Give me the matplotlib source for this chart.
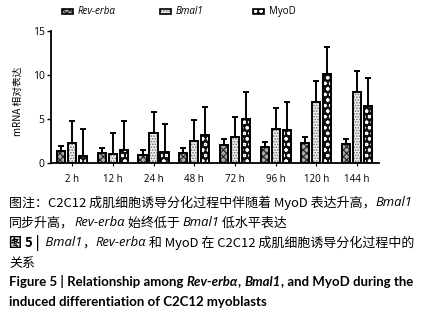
import numpy as np
import matplotlib
matplotlib.use("Agg")
import matplotlib.pyplot as plt
from matplotlib.patches import Rectangle

# values
times = ["2 h", "12 h", "24 h", "48 h", "72 h", "96 h", "120 h", "144 h"]
rev = [1.28, 1.13, 0.90, 1.13, 2.03, 1.80, 2.26, 2.10]
rev_err = [0.60, 0.57, 0.53, 0.57, 0.64, 0.53, 0.64, 0.64]
bmal = [2.26, 0.94, 3.35, 2.44, 2.90, 3.83, 6.92, 8.00]
bmal_err = [2.51, 2.41, 2.40, 2.41, 2.33, 2.37, 2.37, 2.50]
myod = [0.75, 1.50, 1.20, 3.20, 4.96, 3.76, 10.11, 6.47]
myod_err = [3.08, 3.24, 3.16, 3.19, 3.12, 3.19, 3.09, 3.13]

CJK = ["Noto Sans CJK SC", "DejaVu Sans"]
LAT = ["Open Sans", "DejaVu Sans"]
ENG = ["Lato", "DejaVu Sans"]

plt.rcParams["hatch.linewidth"] = 0.8

fig = plt.figure(figsize=(4.25, 3.16), dpi=100)
W, H = 425, 316
ax = fig.add_axes([51 / W, 1 - 162.7 / H, (379 - 51) / W, (162.7 - 31) / H])

x = np.arange(len(times))
bw = 0.2
off = 0.27
styles = [
    # face, hatch colour, hatch
    ("#a8a8a8", "#222222", "xxxxx"),
    ("#f0f0f0", "#707070", "......"),
    ("#111111", "#ffffff", "ooo"),
]
series = [(rev, rev_err), (bmal, bmal_err), (myod, myod_err)]

for i, ((vals, errs), (fc, hc, hatch)) in enumerate(zip(series, styles)):
    xs = x + (i - 1) * off
    ax.bar(xs, vals, bw, color=fc, edgecolor=hc, hatch=hatch, linewidth=0, zorder=2)
    ax.bar(xs, vals, bw, fill=False, edgecolor="black", linewidth=1.4, zorder=3)
    ax.errorbar(xs, vals, yerr=[np.zeros(len(vals)), errs], fmt="none",
                ecolor="black", elinewidth=1.4, capsize=2, capthick=1.4, zorder=1)

ax.set_xlim(-0.52, 7.54)
ax.set_ylim(0, 15)
ax.set_yticks([0, 5, 10, 15])
ax.set_xticks(x)
ax.set_xticklabels(times, fontsize=7, family=LAT)
ax.tick_params(axis="y", labelsize=7.5, length=3, width=1, pad=1.5)
ax.tick_params(axis="x", length=2, width=0.8, pad=6)
for lab in ax.get_yticklabels():
    lab.set_family(LAT)
for s in ["top", "right"]:
    ax.spines[s].set_visible(False)
for s in ["left", "bottom"]:
    ax.spines[s].set_linewidth(1.3)

fig.text(18 / W, 1 - 101 / H, "mRNA 相对表达", rotation=90, ha="center", va="center",
         fontsize=7, family=CJK)

# legend row
legend_items = [("Rev-erbα", "italic", 62), ("Bmal1", "italic", 160), ("MyoD", "normal", 253)]
for (lab, st, px), (fc, hc, hatch) in zip(legend_items, styles):
    r = Rectangle((px / W, 1 - 14 / H), 11 / W, 5 / H, transform=fig.transFigure,
                  facecolor=fc, edgecolor=hc, hatch=hatch, linewidth=0)
    fig.add_artist(r)
    fig.add_artist(Rectangle((px / W, 1 - 14 / H), 11 / W, 5 / H, transform=fig.transFigure,
                             fill=False, edgecolor="black", linewidth=1.2))
    fig.text((px + 16) / W, 1 - 11.5 / H, lab, fontsize=7, style=st, family=LAT,
             va="center")

# caption, drawn run by run so the italic gene names sit inline
renderer = fig.canvas.get_renderer()


def runs(y, parts, size, draw=True):
    xpos = 9 / W
    made = []
    for txt, kw in parts:
        t = fig.text(xpos, 1 - y / H, txt, fontsize=size, va="center", **kw)
        bb = t.get_window_extent(renderer)
        xpos += bb.width / fig.bbox.width
        made.append(t)
    if not draw:
        for t in made:
            t.remove()
    return xpos * W


def fit(parts, right=415, size=8.0):
    end = runs(0, parts, size, draw=False)
    return size * (right - 9) / (end - 9)


cj = dict(family=CJK)
cjb = dict(family=CJK, weight="bold")
it = dict(family=LAT, style="italic")
bd = dict(family=ENG, weight="bold")
bi = dict(family=ENG, weight="bold", style="italic")

line1 = [("图注：C2C12 成肌细胞诱导分化过程中伴随着 MyoD 表达升高，", cj), ("Bmal1", it)]
line3 = [("图 5 | ", cjb), (" Bmal1", it), ("，", cj), ("Rev-erbα", it),
         (" 和 MyoD 在 C2C12 成肌细胞诱导分化过程中的", cj)]
line5 = [("Figure 5 | Relationship among ", bd), ("Rev-erbα", bi), (", ", bd), ("Bmal1", bi),
         (", and MyoD during the", bd)]
cs = min(fit(line1), fit(line3))
es = fit(line5)

runs(203, line1, cs)
runs(223, [("同步升高，", cj), ("Rev-erbα", it), (" 始终低于 ", cj), ("Bmal1", it), (" 低水平表达", cj)], cs)
runs(243, line3, cs)
runs(263, [("关系", cj)], cs)
runs(282, line5, es)
runs(302, [("induced differentiation of C2C12 myoblasts", bd)], es)

fig.savefig("out.png", dpi=100)
